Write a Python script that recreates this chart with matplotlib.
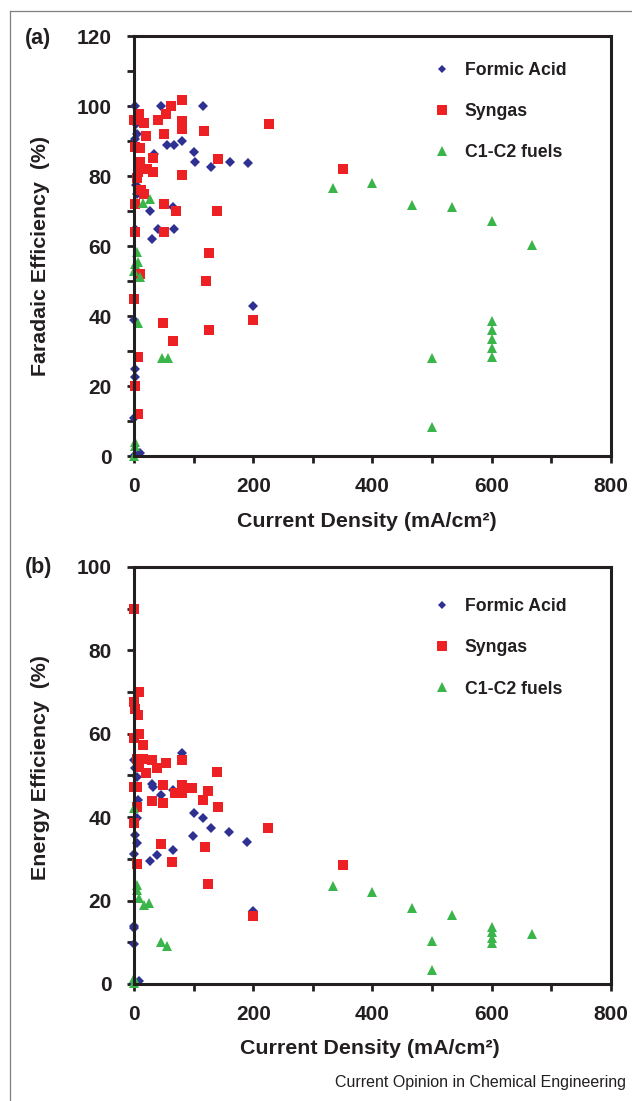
import matplotlib
matplotlib.use("Agg")
import matplotlib.pyplot as plt
from matplotlib.lines import Line2D
from matplotlib.ticker import MultipleLocator

plt.rcParams['font.family'] = ['Liberation Sans', 'DejaVu Sans']

INK = '#231F20'
BLUE = '#2E3192'
RED = '#ED2024'
GREEN = '#3AB54A'

series_names = ['Formic Acid', 'Syngas', 'C1-C2 fuels']

# (a) Faradaic efficiency vs current density
a_formic_cd = [2, 45, 115.5, 3, 4.7, 2, 34, 55, 67.6, 80, 100.7, 102, 130, 161, 190.5,
               3, 4.5, 26.4, 65.5, 2, 40.5, 66.9, 29.7, 199, 0, 2, 2, 0, 10, 2]
a_formic_fe = [100, 100, 100, 95, 92, 90.5, 86.4, 88.8, 88.8, 90, 86.9, 84, 82.6, 84, 83.6,
               77.5, 75, 70, 71.1, 65, 64.9, 64.9, 61.9, 43, 39, 24.8, 22.7, 10.8, 0.9, 0.4]

a_syngas_cd = [80, 62, 54, 8, 0, 16, 40, 80, 80, 117.6, 225.7, 50.7, 20, 1.4, 10, 31.8,
               140.5, 10, 31.8, 6.8, 21.6, 81, 4.7, 11.5, 16, 1.4, 50.7, 70, 139.9, 1.4,
               50.7, 125, 120, 10, 0, 200, 48.6, 125, 65.5, 6.8, 1.4, 6.8, 350]
a_syngas_fe = [101.6, 100, 97.8, 97.8, 95.9, 95.1, 95.9, 95.7, 93.4, 92.9, 94.9, 92, 91.5,
               88.3, 88, 85.1, 84.9, 84, 81.2, 81.2, 82, 80.2, 79.3, 76.1, 74.9, 71.9, 71.9,
               70, 70, 63.9, 63.9, 58, 49.9, 51.9, 44.8, 38.9, 38, 35.9, 33, 28.4, 20, 12, 81.9]

a_fuels_cd = [27, 14.9, 4.7, 1.4, 6.8, 0, 9.5, 6, 47, 56.8, 1.4, 1.4, 0,
              333, 400, 467, 533, 600, 667, 600, 600, 600, 600, 600, 500, 500]
a_fuels_fe = [73.4, 72.4, 58.4, 54.8, 55.3, 52.8, 51.1, 38, 27.9, 27.9, 3.9, 2.9, 0,
              76.5, 78, 71.6, 71.2, 67.2, 60.4, 38.6, 36, 33.3, 31, 28.2, 27.9, 8.3]

# (b) Energy efficiency vs current density
b_formic_cd = [80, 0, 2, 4.5, 30, 32, 46, 66, 7, 4.5, 100.5, 115, 128.5, 159, 189, 99.5,
               2, 4.5, 0, 65, 39, 27, 200, 0, 0, 0, 9, 0]
b_formic_ee = [55.3, 53.7, 51.7, 49.7, 47.9, 47.3, 45.3, 46.5, 44, 39.7, 41, 39.7, 37.5,
               36.5, 34.1, 35.5, 35.7, 33.9, 31.2, 32.1, 30.9, 29.5, 17.6, 14, 13.3, 9.7,
               0.6, 0.2]

b_syngas_cd = [0, 9, 0, 2, 7, 9, 0, 14.5, 4.5, 14.5, 30, 54, 39, 9, 20, 80, 138.5, 0,
               4.5, 49, 80, 69, 80, 98, 123.5, 116, 31, 49, 141, 4.5, 0, 46, 119, 64, 4.5,
               123.5, 200, 224.5, 350]
b_syngas_ee = [90, 69.9, 67.7, 66, 64.5, 60, 58.9, 57.4, 54, 54, 53.7, 52.9, 51.9, 52.1,
               50.5, 53.7, 50.9, 47.3, 47.3, 47.7, 47.7, 45.7, 45.7, 46.9, 46.3, 44.2, 43.9,
               43.3, 42.5, 42.5, 38.5, 33.5, 32.9, 29.3, 28.8, 23.9, 16.3, 37.5, 28.5]

b_fuels_cd = [0, 4.5, 4.5, 9, 17, 25.7, 46, 55, 0, 0,
              333, 400, 467, 533, 600, 600, 600, 600, 667, 500, 500]
b_fuels_ee = [42.1, 23.7, 22.5, 20.5, 18.9, 19.3, 10.1, 9.1, 1.4, 0.2,
              23.4, 22.1, 18.2, 16.5, 13.7, 12.4, 11.1, 9.9, 12, 10.3, 3.3]

styles = [dict(marker='D', ms=5.3, legend_ms=4.0, color=BLUE),
          dict(marker='s', ms=7.3, legend_ms=7.2, color=RED),
          dict(marker='^', ms=7.5, legend_ms=7.4, color=GREEN)]


def draw_panel(ax, data, ymax, ylabel, ylabel_pos, xlabel_pos, legend_y):
    for (x, y), name, st in zip(data, series_names, styles):
        ax.plot(x, y, linestyle='none', marker=st['marker'], ms=st['ms'],
                color=st['color'], markeredgewidth=0, clip_on=False, label=name)
    ax.set_xlim(0, 800)
    ax.set_ylim(0, ymax)
    ax.xaxis.set_major_locator(MultipleLocator(200))
    ax.xaxis.set_minor_locator(MultipleLocator(100))
    ax.yaxis.set_major_locator(MultipleLocator(20))
    ax.yaxis.set_minor_locator(MultipleLocator(10))
    for s in ax.spines.values():
        s.set_linewidth(2.2)
        s.set_color(INK)
    ax.tick_params(which='both', direction='out', length=5, width=2, color=INK)
    ax.tick_params(axis='y', which='major', pad=11)
    ax.tick_params(axis='x', which='major', pad=10)
    for lab in ax.get_xticklabels() + ax.get_yticklabels():
        lab.set_fontsize(15)
        lab.set_fontweight('bold')
        lab.set_color(INK)
    ax.set_xlabel('Current Density (mA/cm²)', fontsize=15.4, fontweight='bold',
                  color=INK, va='center')
    ax.xaxis.set_label_coords(*xlabel_pos)
    ax.set_ylabel(ylabel, fontsize=15.4, fontweight='bold', color=INK, va='center')
    ax.yaxis.set_label_coords(*ylabel_pos)
    leg = ax.legend(loc='upper left', bbox_to_anchor=(0.627, legend_y), frameon=False,
                    handlelength=1.0, handletextpad=0.8, labelspacing=1.37, borderpad=0,
                    borderaxespad=0, prop=dict(weight='bold', size=12.7))
    for t in leg.get_texts():
        t.set_color(INK)
    for h, st in zip(leg.legend_handles, styles):
        h.set_markersize(st['legend_ms'])


fig = plt.figure(figsize=(6.32, 11.01), dpi=100)
ax_a = fig.add_axes([0.2120, 0.5858, 0.7547, 0.3815])
ax_b = fig.add_axes([0.2120, 0.1063, 0.7547, 0.3788])

draw_panel(ax_a,
           [(a_formic_cd, a_formic_fe), (a_syngas_cd, a_syngas_fe), (a_fuels_cd, a_fuels_fe)],
           120, 'Faradaic Efficiency  (%)', (-0.195, 0.477), (0.489, -0.157), 0.938)
draw_panel(ax_b,
           [(b_formic_cd, b_formic_ee), (b_syngas_cd, b_syngas_ee), (b_fuels_cd, b_fuels_ee)],
           100, 'Energy Efficiency  (%)', (-0.195, 0.520), (0.495, -0.154), 0.925)

fig.text(25 / 632, 1 - 38.6 / 1101, '(a)', fontsize=15.5, fontweight='bold', color=INK,
         ha='left', va='center')
fig.text(25 / 632, 1 - 568 / 1101, '(b)', fontsize=15.5, fontweight='bold', color=INK,
         ha='left', va='center')
fig.text(626 / 632, 1 - 1086.5 / 1101, 'Current Opinion in Chemical Engineering',
         fontsize=11.5, color=INK, ha='right', va='baseline')

# grey frame round the figure
fx, fy = 9.5 / 632, 1 - 11 / 1101
fig.add_artist(Line2D([fx, fx], [0, fy], color='#808080', lw=0.9))
fig.add_artist(Line2D([fx, 1], [fy, fy], color='#808080', lw=0.9))

fig.savefig('out.png', dpi=100)
